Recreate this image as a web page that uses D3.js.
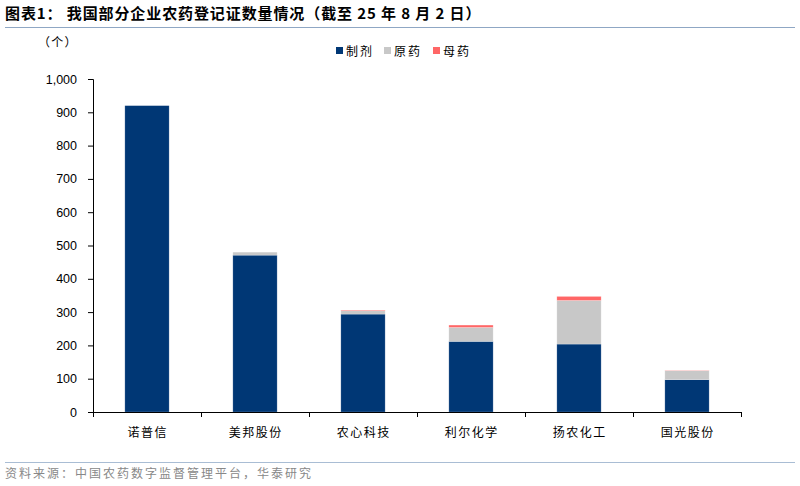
<!DOCTYPE html>
<html><head><meta charset="utf-8">
<script src="https://cdn.jsdelivr.net/npm/d3@7"></script>
<style>body{margin:0;background:#fff}svg{display:block}</style>
</head><body><svg id="c" width="800" height="486"></svg>
<script>
const categories = ["诺普信","美邦股份","农心科技","利尔化学","扬农化工","国光股份"];
const seriesNames = ["制剂","原药","母药"];
const zhiji = [920, 471, 294, 212, 204, 97];
const yuanyao = [0, 9, 10, 42, 131, 27];
const muyao = [0, 0, 2, 7, 12, 1];
const yTicks = [0,100,200,300,400,500,600,700,800,900,1000];
const colors = ["#003775","#C8C8C8","#FF6666"];

const svg = d3.select("#c");
const cjk = "'Noto Sans CJK SC', sans-serif";
const lat = "'Liberation Sans', Arial, sans-serif";

svg.append("text").attr("x",5).attr("y",19).attr("font-family",cjk).attr("font-weight","bold")
  .attr("font-size",15).attr("letter-spacing",0.9).attr("fill","#000").text("图表1：  我国部分企业农药登记证数量情况（截至 25 年 8 月 2 日）");
svg.append("line").attr("x1",5).attr("x2",795).attr("y1",27.5).attr("y2",27.5).attr("stroke","#8fa7c4").attr("stroke-width",1);
svg.append("line").attr("x1",5).attr("x2",795).attr("y1",462.5).attr("y2",462.5).attr("stroke","#a9bdd4").attr("stroke-width",1);
svg.append("text").attr("x",5).attr("y",478).attr("font-family",cjk).attr("font-size",12).attr("letter-spacing",2)
  .attr("fill","#888").text("资料来源：中国农药数字监督管理平台，华泰研究");

svg.append("text").attr("x",38).attr("y",47).attr("font-family",cjk).attr("font-size",12).attr("letter-spacing",1.3).attr("fill","#000").text("（个）");

const x = d3.scaleBand().domain(categories).range([93,741]).paddingInner(0.59).paddingOuter(0.295);
const y = d3.scaleLinear().domain([0,1000]).range([412,79]);

const data = categories.map((c,i)=>({cat:c, "制剂":zhiji[i], "原药":yuanyao[i], "母药":muyao[i]}));
const stacked = d3.stack().keys(seriesNames)(data);

svg.append("g").selectAll("g").data(stacked).join("g").attr("fill",(d,i)=>colors[i])
  .selectAll("rect").data(d=>d).join("rect")
  .attr("x",d=>x(d.data.cat)).attr("width",x.bandwidth())
  .attr("y",d=>y(d[1])).attr("height",d=>Math.max(0,y(d[0])-y(d[1])))
  .attr("stroke","#fff").attr("stroke-opacity",0.35).attr("stroke-width",0.6);

const yAxis = svg.append("g").attr("transform","translate(93,0)")
  .call(d3.axisLeft(y).tickValues(yTicks).tickSize(5).tickPadding(11).tickFormat(d3.format(",")));
yAxis.selectAll("text").attr("font-family",lat).attr("font-size",12.5).attr("fill","#000");
yAxis.selectAll("line,path").attr("stroke","#000");

const xb = d3.scaleLinear().domain([0,6]).range([93,741]);
const xAxis = svg.append("g").attr("transform","translate(0,412)");
xAxis.append("line").attr("x1",93).attr("x2",741).attr("y1",0.5).attr("y2",0.5).attr("stroke","#000");
xAxis.selectAll(".tk").data(d3.range(0,7)).join("line").attr("class","tk")
  .attr("x1",d=>xb(d)+0.5).attr("x2",d=>xb(d)+0.5).attr("y1",0).attr("y2",5).attr("stroke","#000");
xAxis.selectAll(".lb").data(categories).join("text").attr("class","lb")
  .attr("x",d=>x(d)+x.bandwidth()/2+0.7).attr("y",25).attr("text-anchor","middle")
  .attr("font-family",cjk).attr("font-size",12).attr("letter-spacing",1.5).attr("fill","#000").text(d=>d);

const leg = svg.append("g");
const legX = [336, 384, 433];
seriesNames.forEach((s,i)=>{
  leg.append("rect").attr("x",legX[i]).attr("y",47).attr("width",7).attr("height",7).attr("fill",colors[i]);
  leg.append("text").attr("x",legX[i]+10).attr("y",56).attr("font-family",cjk).attr("font-size",12).attr("letter-spacing",2).attr("fill","#000").text(s);
});
</script></body></html>
